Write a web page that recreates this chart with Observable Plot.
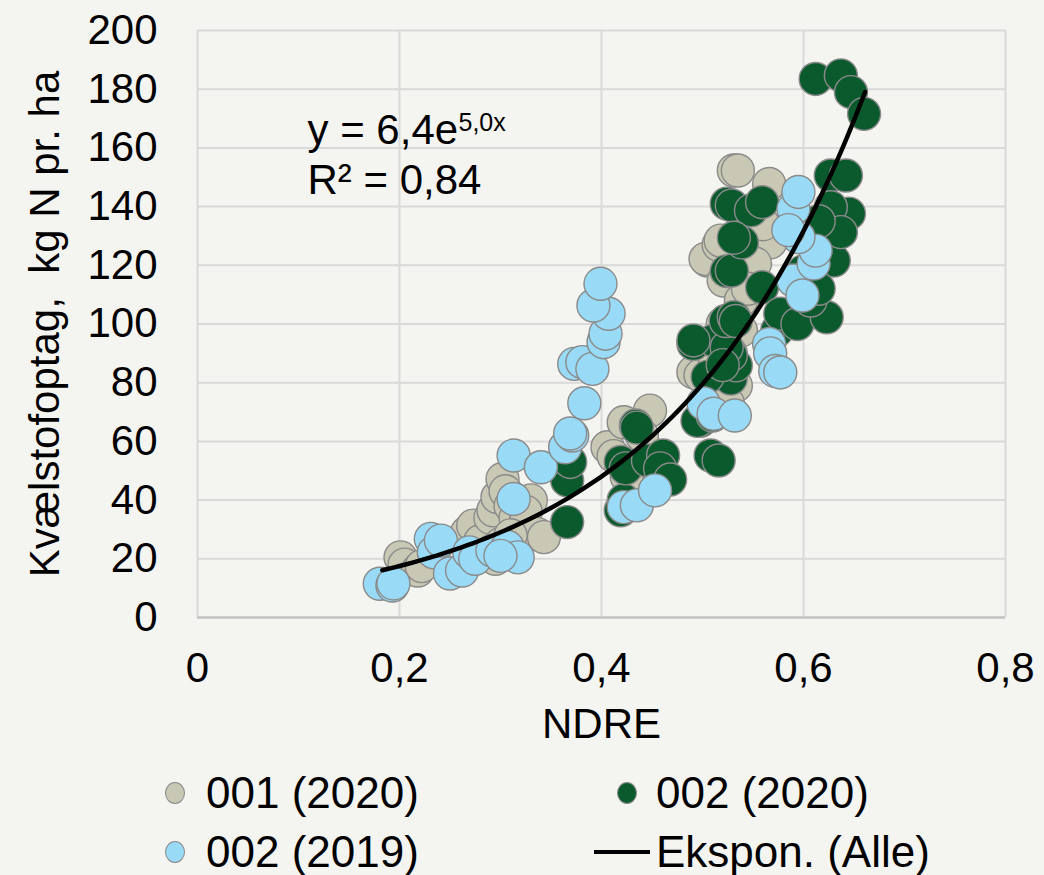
<!DOCTYPE html>
<html>
<head>
<meta charset="utf-8">
<script src="https://cdn.jsdelivr.net/npm/d3@7"></script>
<script src="https://cdn.jsdelivr.net/npm/@observablehq/plot@0.6"></script>
<style>
  html, body { margin: 0; padding: 0; background: #f4f4f0; }
  #wrap { position: relative; width: 1044px; height: 875px; background: #f4f4f0; font-family: "Liberation Sans", Arial, sans-serif; overflow: hidden; }
  .item { position: absolute; display: flex; align-items: center; height: 50px; font-size: 44px; line-height: 1; color: #000; white-space: nowrap; }
  .dot { width: 20px; height: 22px; border-radius: 50%; border: 1.3px solid #8a8a8a; box-sizing: border-box; }
  .ln { width: 56px; height: 4px; background: #000; }
</style>
</head>
<body>
<div id="wrap"></div>
<script>
// ---- data ----
const xTicks = [0, 0.2, 0.4, 0.6, 0.8];
const xTickLabels = ["0", "0,2", "0,4", "0,6", "0,8"];
const yTicks = [0, 20, 40, 60, 80, 100, 120, 140, 160, 180, 200];

const seriesNames = ["001 (2020)", "002 (2020)", "002 (2019)"];
const trendName = "Ekspon. (Alle)";

// 001 (2020)
const ndre001_2020 = [0.201,0.205,0.218,0.222,0.267,0.273,0.283,0.280,0.290,0.293,0.297,0.302,0.305,0.310,0.315,0.323,0.330,0.325,0.336,0.343,0.300,0.295,0.310,
  0.406,0.412,0.422,0.448,0.440,0.425,
  0.491,0.498,0.508,0.518,0.533,0.505,0.503,0.516,0.518,0.521,0.531,0.535,0.566,0.567,0.552,0.541,0.538,0.538,0.528,0.520,0.545,0.560,0.512,0.525];
const n001_2020 = [20.5,18,16,17.5,29,31.3,22.8,26,34,36.5,41,47.2,43,38,34,30.8,39.9,36,28.5,27.4,25,20,28,
  58,55,66.5,70.5,62,48,
  83.6,82.5,82.5,77.3,79,121.6,122.2,127,128.4,114.8,152.3,152.3,147.7,127.8,120.6,106.8,97.8,108,90,100,112,134,86,73];

// 002 (2020)
const ndre002_2020 = [0.366,0.366,0.369,0.419,0.422,0.419,0.424,0.434,0.435,0.446,0.461,0.458,0.468,0.508,0.516,0.498,0.495,0.510,0.528,0.533,0.528,0.491,0.511,0.491,0.524,0.523,0.531,0.533,0.524,0.529,0.524,0.529,0.548,0.559,0.539,0.531,0.559,0.574,0.577,0.594,0.623,0.607,0.617,0.630,0.627,0.642,0.645,0.627,0.637,0.612,0.637,0.647,0.660,0.505,0.520,0.600,0.615,0.615];
const n002_2020 = [32.5,46.7,53,36.5,40,53,50.8,65.4,64.7,53.5,55.2,50.8,47,55.2,53.5,67,67,68.8,81.4,85.9,89.3,93.2,94.4,94.4,92,101,102.3,101,118,118.2,141,140.4,138.7,141.5,127.8,129.4,112.5,97.8,103.5,100,102.3,108,121.6,121.6,150.6,150.6,137.6,139.8,131.3,183.5,184.7,179,171.6,82,86,118,135,112];

// 002 (2019)
const ndre002_2019 = [0.1805,0.193,0.194,0.231,0.234,0.241,0.250,0.262,0.269,0.275,0.292,0.307,0.317,0.300,0.313,0.313,0.340,0.364,0.371,0.369,0.383,0.373,0.381,0.391,0.402,0.404,0.407,0.392,0.399,0.422,0.435,0.453,0.501,0.511,0.532,0.566,0.567,0.572,0.577,0.590,0.599,0.610,0.612,0.595,0.590,0.595,0.585];
const n002_2019 = [11.5,10.9,11.6,26.8,22.2,26.2,15,16,22.2,20,22.8,24,20.5,21,40.4,55.2,51.2,58,62,62.7,73,86.4,87,84.7,93.8,96.7,103.5,106.3,113.7,37.6,38.2,43.3,73,69.4,68.8,93.2,90,84,83.5,114.8,109.7,120.6,125,129.6,139.2,145,132];

// exponential trendline y = a·e^(b·x), shown in the chart as y = 6,4e^(5,0x)
const trendA = 6.4;
const trendB = 5.04;
const trendRange = [0.183, 0.661];

const colors = ["#c9c8b4", "#0b5a2e", "#99dbf6"];

// ---- build tables ----
const toRows = (xs, ys) => xs.map((x, i) => ({x, y: ys[i]}));
const rows001 = toRows(ndre001_2020, n001_2020);
const rows002a = toRows(ndre002_2020, n002_2020);
const rows002b = toRows(ndre002_2019, n002_2019);
const trendRows = d3.range(0, 81).map(i => {
  const x = trendRange[0] + (trendRange[1] - trendRange[0]) * i / 80;
  return {x, y: trendA * Math.exp(trendB * x)};
});

const font = `"Liberation Sans", Arial, sans-serif`;
const dotOpts = (c) => ({x: "x", y: "y", r: 16.5, fill: c, stroke: "#8a8a8a", strokeWidth: 1.4});

const chart = Plot.plot({
  width: 1044,
  height: 760,
  marginLeft: 197,
  marginRight: 39,
  marginTop: 30,
  marginBottom: 143,
  style: {background: "transparent", fontFamily: font, fontSize: "42px", color: "#000", overflow: "visible"},
  x: {domain: [0, 0.8], label: null},
  y: {domain: [0, 200], label: null},
  marks: [
    Plot.gridX(xTicks, {stroke: "#d9d9d9", strokeOpacity: 1, strokeWidth: 2}),
    Plot.gridY(yTicks, {stroke: "#d9d9d9", strokeOpacity: 1, strokeWidth: 2}),
    Plot.ruleY([0], {stroke: "#c4c4c4", strokeWidth: 2.5}),
    Plot.axisX(xTicks, {tickSize: 0, tickPadding: 35, fontSize: 42, label: null, tickFormat: d => xTickLabels[xTicks.indexOf(d)]}),
    Plot.axisY(yTicks, {tickSize: 0, tickPadding: 40, fontSize: 42, label: null}),
    Plot.dot(rows001, dotOpts(colors[0])),
    Plot.dot(rows002a, dotOpts(colors[1])),
    Plot.dot(rows002b, dotOpts(colors[2])),
    Plot.line(trendRows, {x: "x", y: "y", stroke: "#000", strokeWidth: 4.5, curve: "linear"}),
    Plot.text(["NDRE"], {frameAnchor: "bottom", dy: 91, lineAnchor: "top", fontSize: 42}),
    Plot.text(["Kvælstofoptag,  kg N pr. ha"], {frameAnchor: "left", dx: -152, rotate: -90, textAnchor: "middle", lineAnchor: "middle", fontSize: 42}),
    Plot.text(["y = 6,4e"], {frameAnchor: "top-left", dx: 110, dy: 113, textAnchor: "start", lineAnchor: "bottom", fontSize: 42}),
    Plot.text(["5,0x"], {frameAnchor: "top-left", dx: 261, dy: 100, textAnchor: "start", lineAnchor: "bottom", fontSize: 25}),
    Plot.text(["R² = 0,84"], {frameAnchor: "top-left", dx: 110, dy: 163, textAnchor: "start", lineAnchor: "bottom", fontSize: 42})
  ]
});

const wrap = document.getElementById("wrap");
chart.style.position = "absolute";
chart.style.left = "0px";
chart.style.top = "0px";
wrap.appendChild(chart);

// ---- legend ----
const legendItems = [
  {label: seriesNames[0], color: colors[0], left: 165, top: 768, gap: 21},
  {label: seriesNames[1], color: colors[1], left: 617, top: 768, gap: 19},
  {label: seriesNames[2], color: colors[2], left: 165, top: 827, gap: 21},
  {label: trendName, line: true, left: 594, top: 827, gap: 6}
];
for (const it of legendItems) {
  const d = document.createElement("div");
  d.className = "item";
  d.style.left = it.left + "px";
  d.style.top = it.top + "px";
  const m = document.createElement("span");
  if (it.line) { m.className = "ln"; }
  else { m.className = "dot"; m.style.background = it.color; }
  m.style.marginRight = it.gap + "px";
  d.appendChild(m);
  const t = document.createElement("span");
  t.textContent = it.label;
  d.appendChild(t);
  wrap.appendChild(d);
}
</script>
</body>
</html>
